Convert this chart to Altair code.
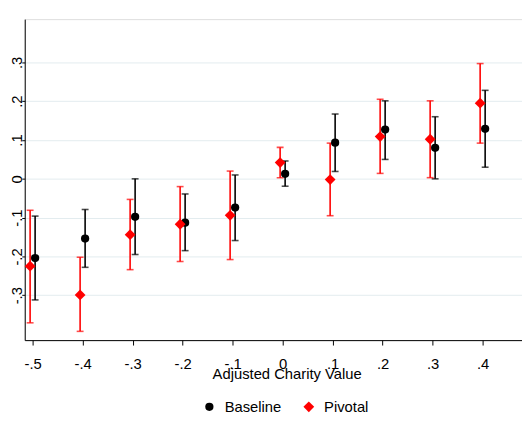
import altair as alt
import pandas as pd

# Adjusted charity value categories
x_vals = [-0.5, -0.4, -0.3, -0.2, -0.1, 0.0, 0.1, 0.2, 0.3, 0.4]

# Baseline estimates and 95% CI
base_est = [-0.204, -0.154, -0.098, -0.113, -0.074, 0.013, 0.093, 0.127, 0.080, 0.129]
base_lo = [-0.312, -0.228, -0.195, -0.185, -0.159, -0.019, 0.019, 0.050, 0.000, 0.030]
base_hi = [-0.096, -0.079, 0.000, -0.039, 0.010, 0.046, 0.167, 0.201, 0.160, 0.228]

# Pivotal estimates and 95% CI
piv_est = [-0.225, -0.299, -0.144, -0.117, -0.094, 0.042, -0.002, 0.109, 0.102, 0.195]
piv_lo = [-0.371, -0.393, -0.234, -0.213, -0.208, 0.003, -0.095, 0.014, 0.003, 0.092]
piv_hi = [-0.081, -0.202, -0.053, -0.020, 0.020, 0.081, 0.092, 0.205, 0.201, 0.297]

y_ticks = [-0.3, -0.2, -0.1, 0.0, 0.1, 0.2, 0.3]
series_names = ["Baseline", "Pivotal"]
series_colors = ["#000000", "#ff0000"]
series_shapes = ["circle", "diamond"]

rows = []
for i, xv in enumerate(x_vals):
    rows.append(dict(series="Baseline", x=xv, est=base_est[i], lo=base_lo[i], hi=base_hi[i]))
    rows.append(dict(series="Pivotal", x=xv, est=piv_est[i], lo=piv_lo[i], hi=piv_hi[i]))
df = pd.DataFrame(rows)

FONT = "Liberation Sans"
label_expr = ("datum.value == 0 ? '0' : (datum.value < 0 ? '-' : '') + "
              "replace(format(abs(datum.value), '.1f'), '0.', '.')")

xscale = alt.Scale(domain=[-0.51575, 0.4787], nice=False, zero=False)
yscale = alt.Scale(domain=[-0.4156, 0.4115], nice=False, zero=False)

x_axis = alt.Axis(
    values=x_vals, labelExpr=label_expr, title="Adjusted Charity Value",
    grid=False, tickSize=5, labelPadding=12, labelFontSize=15, labelFont=FONT,
    labelColor="black", domainColor="black", tickColor="black",
    titleFont=FONT, titleFontSize=15, titleFontWeight="normal", titleColor="black",
    titleBaseline="alphabetic", titleY=39, titleX=266, titleAlign="center",
    labelFlush=False,
)
y_axis = alt.Axis(
    values=y_ticks, labelExpr=label_expr, title=None,
    grid=True, gridColor="#e3ecef", gridWidth=1,
    tickSize=3, labelPadding=0, labelFontSize=15, labelFont=FONT,
    labelColor="black", domainColor="black", tickColor="black",
    labelAngle=270, labelAlign="center", labelBaseline="alphabetic",
    labelFlush=False,
)

color_scale = alt.Scale(domain=series_names, range=series_colors)
color_nolegend = alt.Color("series:N", scale=color_scale, legend=None)

base = alt.Chart(df).transform_calculate(
    xpos="datum.x + (datum.series === 'Baseline' ? 0.005 : -0.005)"
)

X = alt.X("xpos:Q", scale=xscale, axis=x_axis)

bars = base.mark_rule(strokeWidth=1.6).encode(
    x=X,
    y=alt.Y("lo:Q", scale=yscale, axis=y_axis),
    y2="hi:Q",
    color=color_nolegend,
)
caps_lo = base.mark_tick(orient="horizontal", size=7, thickness=1.6).encode(
    x=X, y=alt.Y("lo:Q", scale=yscale, axis=y_axis), color=color_nolegend
)
caps_hi = base.mark_tick(orient="horizontal", size=7, thickness=1.6).encode(
    x=X, y=alt.Y("hi:Q", scale=yscale, axis=y_axis), color=color_nolegend
)

leg = alt.Legend(title=None, orient="none", direction="horizontal",
                 legendX=180, legendY=386, labelFont=FONT, labelFontSize=15,
                 labelColor="black", symbolSize=100, labelOffset=8,
                 columnPadding=20, padding=0, symbolStrokeWidth=0)

points = base.mark_point(filled=True, opacity=1).encode(
    x=X,
    y=alt.Y("est:Q", scale=yscale, axis=y_axis),
    color=alt.Color("series:N", scale=color_scale, legend=leg),
    shape=alt.Shape("series:N", scale=alt.Scale(domain=series_names, range=series_shapes), legend=leg),
    size=alt.Size("series:N", scale=alt.Scale(domain=series_names, range=[70, 120]), legend=None),
)

chart = alt.layer(bars, caps_lo, caps_hi, points).resolve_legend(
    color="independent", shape="independent", size="independent"
).properties(
    width=505, height=326,
    autosize=alt.AutoSizeParams(type="none"),
    padding={"left": 17, "top": 8, "right": 0, "bottom": 90},
).configure_view(stroke=None).configure(background="white")

chart.save("out.html", embed_options={"renderer": "svg", "actions": False})
